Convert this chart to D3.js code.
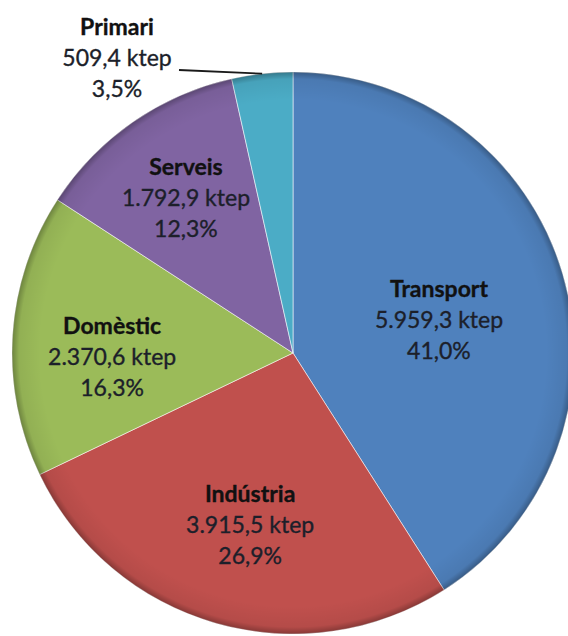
<!DOCTYPE html>
<html>
<head>
<meta charset="utf-8">
<script src="https://cdn.jsdelivr.net/npm/d3@7"></script>
<style>
  html, body { margin: 0; padding: 0; background: #fff; }
  svg { display: block; }
  text { font-family: Lato, "Open Sans", sans-serif; }
</style>
</head>
<body>
<div id="chart"></div>
<script>
// consum d'energia final per sectors (ktep)
const sectors = ["Transport", "Indústria", "Domèstic", "Serveis", "Primari"];
const ktep = [5959.3, 3915.5, 2370.6, 1792.9, 509.4];
const colors = ["#4f81bd", "#c0504d", "#9bbb59", "#8064a2", "#4bacc6"];

const W = 568, H = 636;
const cx = 293, cy = 353, R = 281;

// where excel's "best fit" left the labels:
// fraction of the radius + small turn (degrees) off the slice middle
const labelPos = {
  "Transport": [0.532, 3.8],
  "Indústria": [0.634, -2.0],
  "Domèstic":  [0.644, -5.4],
  "Serveis":   [0.666, -0.1]
};
// Primari sits outside the pie with a leader line
const outsideLabel = {x: 117, y: 35};

const loc = d3.formatLocale({decimal: ",", thousands: ".", grouping: [3]});
const fmtVal = loc.format(",.1f");
const fmtPct = loc.format(".1f");

const total = d3.sum(ktep);
const data = sectors.map((s, i) => ({name: s, value: ktep[i], color: colors[i]}));

const svg = d3.select("#chart").append("svg")
    .attr("width", W)
    .attr("height", H);

const defs = svg.append("defs");
const rim = defs.append("radialGradient")
    .attr("id", "rim")
    .attr("gradientUnits", "userSpaceOnUse")
    .attr("cx", cx).attr("cy", cy).attr("r", R);
rim.append("stop").attr("offset", 0.9).attr("stop-color", "#000").attr("stop-opacity", 0);
rim.append("stop").attr("offset", 0.975).attr("stop-color", "#000").attr("stop-opacity", 0.06);
rim.append("stop").attr("offset", 1).attr("stop-color", "#000").attr("stop-opacity", 0.3);

const pie = d3.pie()
    .value(d => d.value)
    .sort(null);

const arc = d3.arc()
    .innerRadius(0)
    .outerRadius(R);

const arcs = pie(data);

const g = svg.append("g").attr("transform", `translate(${cx},${cy})`);

g.selectAll("path.slice")
  .data(arcs)
  .join("path")
    .attr("class", "slice")
    .attr("d", arc)
    .attr("fill", d => d.data.color)
    .attr("stroke", "#fff")
    .attr("stroke-opacity", 0.55)
    .attr("stroke-width", 1);

// darker rim, like the 2007 chart style
svg.append("circle")
    .attr("cx", cx).attr("cy", cy).attr("r", R)
    .attr("fill", "url(#rim)")
    .attr("pointer-events", "none");

const fontSize = 23;
const lineH = 31;

function writeLabel(sel, d) {
  const pct = d.data.value / total * 100;
  const lines = [d.data.name, fmtVal(d.data.value) + " ktep", fmtPct(pct) + "%"];
  sel.selectAll("tspan")
    .data(lines)
    .join("tspan")
      .attr("x", 0)
      .attr("dy", (l, i) => i === 0 ? 0 : lineH)
      .attr("font-weight", (l, i) => i === 0 ? 700 : 400)
      .attr("fill", (l, i) => i === 0 ? "#111" : "#1c1f2a")
      .attr("stroke", (l, i) => i === 0 ? "#111" : "#1c1f2a")
      .attr("stroke-width", 0.35)
      .text(l => l);
}

const inside = arcs.filter(d => labelPos[d.data.name] !== undefined);
const outside = arcs.filter(d => labelPos[d.data.name] === undefined);

g.selectAll("text.inlabel")
  .data(inside)
  .join("text")
    .attr("class", "inlabel")
    .attr("font-size", fontSize)
    .attr("text-anchor", "middle")
    .attr("transform", d => {
      const [f, turn] = labelPos[d.data.name];
      const a = (d.startAngle + d.endAngle) / 2 + turn * Math.PI / 180;
      const r = R * f;
      // middle line centred on the anchor point
      return `translate(${r * Math.sin(a)},${-r * Math.cos(a) + 7 - lineH})`;
    })
    .each(function(d) { writeLabel(d3.select(this), d); });

outside.forEach(d => {
  const a = (d.startAngle + d.endAngle) / 2;
  const tip = [cx + R * Math.sin(a), cy - R * Math.cos(a)];
  svg.append("line")
      .attr("x1", outsideLabel.x + 62).attr("y1", outsideLabel.y + 35)
      .attr("x2", tip[0]).attr("y2", tip[1])
      .attr("stroke", "#1a1a1a")
      .attr("stroke-width", 1.8);
  svg.append("text")
      .attr("font-size", fontSize)
      .attr("text-anchor", "middle")
      .attr("transform", `translate(${outsideLabel.x},${outsideLabel.y})`)
      .call(sel => writeLabel(sel, d));
});
</script>
</body>
</html>
